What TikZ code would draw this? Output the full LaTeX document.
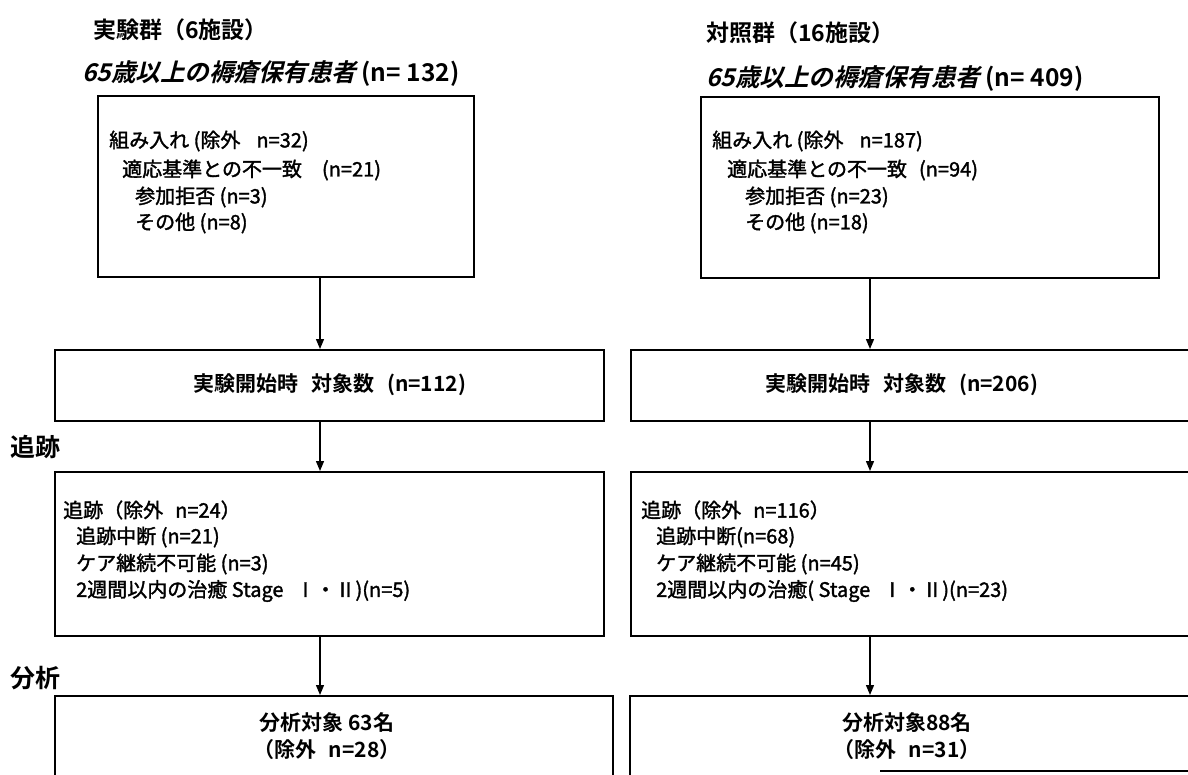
\documentclass[tikz,border=0pt]{standalone}
\usepackage{fontspec}
\setmainfont{Noto Sans CJK JP}
\newfontfamily\jpb{Noto Sans CJK JP Bold}
\newfontfamily\jpbi[FakeSlant=0.25]{Noto Sans CJK JP Bold}
\newfontfamily\jpm[FakeBold=1.6]{Noto Sans CJK JP}
\usetikzlibrary{arrows.meta}
\tikzset{
  boxnode/.style={draw=black, line width=1.7pt, rectangle, inner sep=0pt, anchor=north west},
  conn/.style={draw=black, line width=1.3pt, -{Triangle[length=10pt,width=8pt]}},
  title/.style={anchor=west, inner sep=0pt, font=\jpb\fontsize{23}{23}\selectfont},
  ttl/.style={anchor=west, inner sep=0pt, font=\jpb\fontsize{24.5}{24.5}\selectfont},
  body/.style={anchor=west, inner sep=0pt, font=\jpm\fontsize{20}{20}\selectfont},
  bodyb/.style={anchor=center, inner sep=0pt, font=\jpb\fontsize{21}{21}\selectfont},
  sidelabel/.style={anchor=west, inner sep=0pt, font=\jpb\fontsize{25}{25}\selectfont}
}
\begin{document}
\begin{tikzpicture}[x=1pt,y=-1pt]
\useasboundingbox (0,0) rectangle (1188,774);
\fill[white] (0,0) rectangle (1188,774);
% arrow columns
\coordinate (la) at (320,0);
\coordinate (ra) at (870,0);
% ---------- left column ----------
\node[title] (lt1) at (93,30) {実験群（6施設）};
\node[ttl] (lt2) at (82,74) {{\jpbi 65歳以上の褥瘡保有患者} (n= 132)};
\node[boxnode, minimum width=376pt, minimum height=181pt] (L1) at (97,95) {};
\node[body] (l1a) at (109,141) {組み入れ (除外\hspace{0.8em}n=32)};
\node[body] (l1b) at (122,170) {適応基準との不一致\hspace{1em}(n=21)};
\node[body] (l1c) at (135,197) {参加拒否 (n=3)};
\node[body] (l1d) at (135,223) {その他 (n=8)};
\node[boxnode, minimum width=549pt, minimum height=71pt] (L2) at (54,349) {};
\node[bodyb] (l2t) at (330,385) {実験開始時\hspace{0.6em}対象数\hspace{0.6em}(n=112)};
\node[sidelabel] (lab1) at (10,447) {追跡};
\node[boxnode, minimum width=549pt, minimum height=164pt] (L3) at (54,471) {};
\node[body] (l3a) at (63,510) {追跡（除外\hspace{0.6em}n=24）};
\node[body] (l3b) at (76,537) {追跡中断 (n=21)};
\node[body] (l3c) at (76,564) {ケア継続不可能 (n=3)};
\node[body] (l3d) at (76,591) {2週間以内の治癒 Stage\hspace{0.6em}Ⅰ・Ⅱ)(n=5)};
\node[sidelabel] (lab2) at (10,678) {分析};
\node[boxnode, minimum width=558pt, minimum height=110pt] (L4) at (54,695) {};
\node[bodyb] (l4a) at (327,723) {分析対象 63名};
\node[bodyb] (l4b) at (327,750) {（除外\hspace{0.6em}n=28）};
% ---------- right column ----------
\node[title] (rt1) at (706,33) {対照群（16施設）};
\node[ttl] (rt2) at (706,79) {{\jpbi 65歳以上の褥瘡保有患者} (n= 409)};
\node[boxnode, minimum width=458pt, minimum height=181pt] (R1) at (700,96) {};
\node[body] (r1a) at (712,141) {組み入れ (除外\hspace{0.8em}n=187)};
\node[body] (r1b) at (727,170) {適応基準との不一致\hspace{0.6em}(n=94)};
\node[body] (r1c) at (745,197) {参加拒否 (n=23)};
\node[body] (r1d) at (745,223) {その他 (n=18)};
\node[boxnode, minimum width=580pt, minimum height=71pt] (R2) at (630,349) {};
\node[bodyb] (r2t) at (902,385) {実験開始時\hspace{0.6em}対象数\hspace{0.6em}(n=206)};
\node[boxnode, minimum width=580pt, minimum height=164pt] (R3) at (630,471) {};
\node[body] (r3a) at (641,510) {追跡（除外\hspace{0.6em}n=116）};
\node[body] (r3b) at (656,537) {追跡中断(n=68)};
\node[body] (r3c) at (656,564) {ケア継続不可能 (n=45)};
\node[body] (r3d) at (656,591) {2週間以内の治癒( Stage\hspace{0.6em}Ⅰ・Ⅱ)(n=23)};
\node[boxnode, minimum width=580pt, minimum height=110pt] (R4) at (629,695) {};
\node[bodyb] (r4a) at (907,723) {分析対象88名};
\node[bodyb] (r4b) at (907,750) {（除外\hspace{0.6em}n=31）};
\coordinate (rb1) at (880,771);
\coordinate (rb2) at (1188,771);
\draw[line width=1.7pt] (rb1) -- (rb2);
% ---------- connectors ----------
\draw[conn] (L1.south -| la) -- (L2.north -| la);
\draw[conn] (L2.south -| la) -- (L3.north -| la);
\draw[conn] (L3.south -| la) -- (L4.north -| la);
\draw[conn] (R1.south -| ra) -- (R2.north -| ra);
\draw[conn] (R2.south -| ra) -- (R3.north -| ra);
\draw[conn] (R3.south -| ra) -- (R4.north -| ra);
\end{tikzpicture}
\end{document}
